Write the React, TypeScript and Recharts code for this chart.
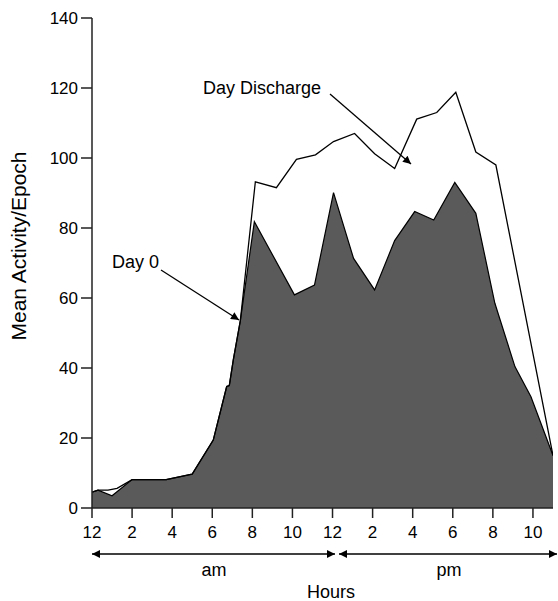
import { ComposedChart, Area, Line, XAxis, YAxis } from 'recharts';

const FONT = '"Liberation Sans", Arial, Helvetica, sans-serif';

// hours after midnight
const day0Hours = [0, 0.3, 1.0, 2.0, 3.7, 5.0, 6.05, 6.72, 6.85, 7.05, 7.4, 8.1, 10.1, 11.1, 12.05, 13.05, 14.1, 15.1, 16.1, 17.05, 18.1, 19.15, 20.1, 21.1, 21.9, 23];
const day0Values = [4.5, 5.1, 3.5, 8.1, 8.1, 9.7, 19.4, 34.7, 35, 42.3, 53.5, 81.8, 60.9, 63.7, 90.1, 71.3, 62.3, 76.4, 84.7, 82.3, 93, 84.2, 58.5, 40.4, 31.8, 15];

const dischargeHours = [0, 0.3, 0.8, 1.25, 2.0, 3.7, 5.0, 6.05, 6.72, 6.85, 7.05, 7.4, 8.15, 9.2, 10.2, 11.15, 12.05, 13.1, 14.1, 15.1, 16.2, 17.2, 18.15, 19.15, 20.15, 23];
const dischargeValues = [4.5, 5.1, 5.1, 5.6, 8.1, 8.1, 9.7, 19.4, 34.7, 35, 42.3, 53.5, 93.2, 91.5, 99.6, 100.9, 104.7, 107, 101.2, 97, 111.1, 113, 118.8, 101.7, 98, 15];

const hourTicks = [0, 2, 4, 6, 8, 10, 12, 14, 16, 18, 20, 22];
const valueTicks = [0, 20, 40, 60, 80, 100, 120, 140];

const day0Data = day0Hours.map((h, i) => ({ h, v: day0Values[i] }));
const dischargeData = dischargeHours.map((h, i) => ({ h, v: dischargeValues[i] }));

const hourLabel = (h: number) => (h % 12 === 0 ? '12' : String(h % 12));

function Arrow({ x1, y1, x2, y2 }: { x1: number; y1: number; x2: number; y2: number }) {
  return <line x1={x1} y1={y1} x2={x2} y2={y2} stroke="#000" strokeWidth={1.3} markerEnd="url(#head)" />;
}

export default function App() {
  return (
    <div style={{ position: 'absolute', left: 0, top: 0, width: 558, height: 601, background: '#fff' }}>
      <ComposedChart width={558} height={601} margin={{ top: 18, right: 5, bottom: 63, left: 0 }}>
        <XAxis
          type="number"
          dataKey="h"
          domain={[0, 23]}
          ticks={hourTicks}
          tickFormatter={hourLabel}
          allowDataOverflow
          height={30}
          tickSize={10}
          tickMargin={8}
          stroke="#222"
          strokeWidth={1.5}
          tick={{ fontSize: 17, fill: '#000', fontFamily: FONT }}
        />
        <YAxis
          type="number"
          domain={[0, 140]}
          ticks={valueTicks}
          width={92}
          tickSize={11}
          tickMargin={3}
          stroke="#222"
          strokeWidth={1.5}
          tick={{ fontSize: 17, fill: '#000', fontFamily: FONT }}
        />
        <Line
          data={dischargeData}
          dataKey="v"
          type="linear"
          stroke="#000"
          strokeWidth={1.3}
          dot={false}
          activeDot={false}
          isAnimationActive={false}
        />
        <Area
          data={day0Data}
          dataKey="v"
          type="linear"
          stroke="#000"
          strokeWidth={1.2}
          fill="#5a5a5a"
          fillOpacity={1}
          dot={false}
          activeDot={false}
          isAnimationActive={false}
        />
      </ComposedChart>
      <svg width={558} height={601} style={{ position: 'absolute', left: 0, top: 0, pointerEvents: 'none' }} fontFamily={FONT}>
        <defs>
          <marker id="head" viewBox="0 0 10 10" refX="10" refY="5" markerWidth="10" markerHeight="8" markerUnits="userSpaceOnUse" orient="auto">
            <path d="M0,0 L10,5 L0,10 z" fill="#000" />
          </marker>
          <marker id="tail" viewBox="0 0 10 10" refX="0" refY="5" markerWidth="10" markerHeight="8" markerUnits="userSpaceOnUse" orient="auto">
            <path d="M10,0 L0,5 L10,10 z" fill="#000" />
          </marker>
        </defs>
        <text x={26} y={246} transform="rotate(-90 26 246)" textAnchor="middle" fontSize={21} fill="#000">
          Mean Activity/Epoch
        </text>
        <text x={112} y={268} fontSize={18} fill="#000">Day 0</text>
        <Arrow x1={161} y1={270} x2={239} y2={320} />
        <text x={203} y={94} fontSize={18} fill="#000">Day Discharge</text>
        <Arrow x1={330} y1={94} x2={411} y2={164} />
        <line x1={92} y1={554} x2={335} y2={554} stroke="#000" strokeWidth={1.3} markerStart="url(#tail)" markerEnd="url(#head)" />
        <line x1={339} y1={554} x2={557} y2={554} stroke="#000" strokeWidth={1.3} markerStart="url(#tail)" markerEnd="url(#head)" />
        <text x={214} y={576} textAnchor="middle" fontSize={18} fill="#000">am</text>
        <text x={449} y={576} textAnchor="middle" fontSize={18} fill="#000">pm</text>
        <text x={331} y={598} textAnchor="middle" fontSize={18} fill="#000">Hours</text>
      </svg>
    </div>
  );
}
